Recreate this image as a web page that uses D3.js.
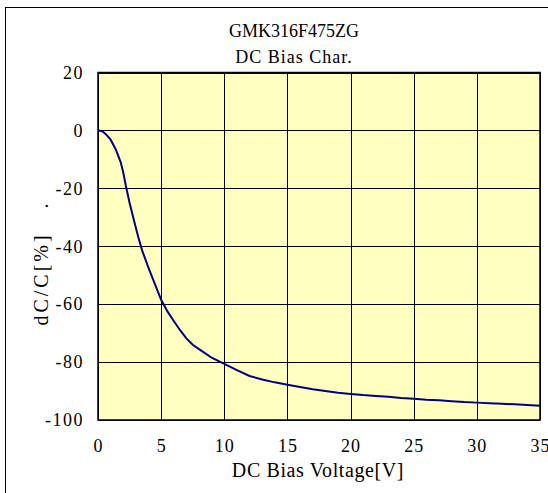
<!DOCTYPE html>
<html><head><meta charset="utf-8">
<script src="https://cdn.jsdelivr.net/npm/d3@7"></script>
<style>body{margin:0;background:#fff}svg{display:block}</style>
</head><body>
<svg id="c" width="548" height="493"></svg>
<script>
const titleLines = ["GMK316F475ZG", "DC Bias Char."];
const xLabel = "DC Bias Voltage[V]";
const yLabel = "dC/C[%]   .";
const xTicks = [0, 5, 10, 15, 20, 25, 30, 35];
const yTicks = [20, 0, -20, -40, -60, -80, -100];
const voltage = [0,0.3,0.6,1.0,1.4,1.8,2.0,2.2,2.5,2.9,3.2,3.5,4.0,4.5,5.0,5.5,6.0,6.5,7.0,7.5,8.0,8.5,9.0,10,11,12,13,14,15,16,17,18,19,20,21,22,23,24,25,26,27,28,29,30,31,32,33,34,35];
const dcPct = [0,-0.2,-1.2,-3.2,-6.5,-11,-14.5,-19,-25,-32,-37,-41.5,-47.5,-53,-58.5,-62.5,-65.8,-69,-71.8,-74,-75.5,-77,-78.5,-80.6,-82.8,-84.8,-86,-87,-87.8,-88.6,-89.4,-90,-90.6,-91,-91.4,-91.7,-92,-92.4,-92.7,-93,-93.2,-93.5,-93.8,-94,-94.2,-94.4,-94.6,-94.8,-95.1];

const FONT = '"Liberation Serif","Times New Roman","DejaVu Serif",serif';
const svg = d3.select("#c");
const L = 98, R = 540, T = 72.5, B = 420;
const x = d3.scaleLinear().domain([0, 35]).range([L, R]);
const y = d3.scaleLinear().domain([-100, 20]).range([B, T]);

svg.append("rect").attr("x", 5.5).attr("y", 7.5).attr("width", 700).attr("height", 700)
  .attr("fill", "none").attr("stroke", "#000").attr("stroke-width", 1);

svg.append("rect").attr("x", L).attr("y", T).attr("width", R - L).attr("height", B - T)
  .attr("fill", "#FFFFC0");

svg.append("g").selectAll("line").data(xTicks).join("line")
  .attr("x1", d => Math.round(x(d)) + 0.5).attr("x2", d => Math.round(x(d)) + 0.5)
  .attr("y1", T).attr("y2", B).attr("stroke", "#000").attr("stroke-width", 1);
svg.append("g").selectAll("line").data(yTicks).join("line")
  .attr("y1", d => Math.round(y(d)) + 0.5).attr("y2", d => Math.round(y(d)) + 0.5)
  .attr("x1", L).attr("x2", R).attr("stroke", "#000").attr("stroke-width", 1);

svg.append("rect").attr("x", L).attr("y", T).attr("width", R - L).attr("height", B - T)
  .attr("fill", "none").attr("stroke", "#000").attr("stroke-width", 1.5);

const xAxis = svg.append("g").attr("transform", `translate(0,${B})`)
  .call(d3.axisBottom(x).tickValues(xTicks).tickFormat(d => String(d)).tickSize(0).tickPadding(19))
  .attr("font-family", FONT).attr("font-size", 18);
xAxis.select(".domain").remove();
xAxis.selectAll("text").attr("letter-spacing", "1px").attr("fill", "#000");

const yAxis = svg.append("g").attr("transform", `translate(${L},0)`)
  .call(d3.axisLeft(y).tickValues(yTicks).tickFormat(d => String(d)).tickSize(0).tickPadding(14))
  .attr("font-family", FONT).attr("font-size", 18);
yAxis.select(".domain").remove();
yAxis.selectAll("text").attr("letter-spacing", "1.5px").attr("fill", "#000");

const line = d3.line().x((d, i) => x(voltage[i])).y(d => y(d));
svg.append("path").datum(dcPct).attr("d", line)
  .attr("fill", "none").attr("stroke", "#000080").attr("stroke-width", 2);

svg.append("text").attr("x", 294).attr("y", 37).attr("text-anchor", "middle")
  .attr("font-family", FONT).attr("font-size", 18).text(titleLines[0]);
svg.append("text").attr("x", 294).attr("y", 63).attr("text-anchor", "middle")
  .attr("font-family", FONT).attr("font-size", 18).attr("letter-spacing", "1px").text(titleLines[1]);
svg.append("text").attr("x", 318).attr("y", 477).attr("text-anchor", "middle")
  .attr("font-family", FONT).attr("font-size", 20).attr("letter-spacing", "0.6px").text(xLabel);
svg.append("text").attr("transform", "translate(48,263) rotate(-90)").attr("text-anchor", "middle")
  .attr("font-family", FONT).attr("font-size", 20).attr("letter-spacing", "3px")
  .style("white-space", "pre").text(yLabel);
</script>
</body></html>
